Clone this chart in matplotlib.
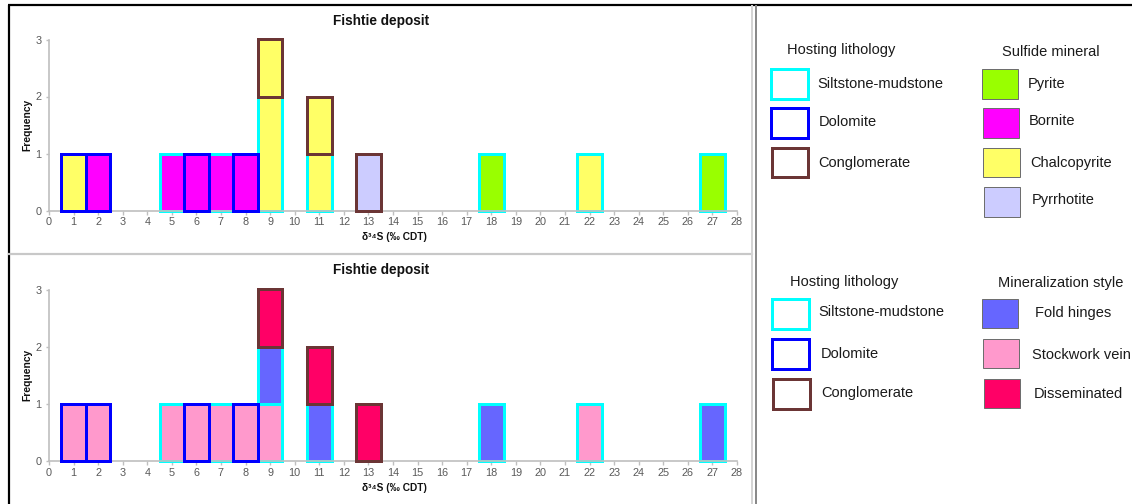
import matplotlib
matplotlib.use("Agg")
import matplotlib.pyplot as plt
from matplotlib.patches import Rectangle

plt.rcParams['font.family'] = ['Liberation Sans', 'DejaVu Sans']

# Sulfur isotope samples (one entry per analysed sample, binned to integer permil)
d34s_bin = [1, 2, 5, 6, 7, 8, 9, 9, 9, 11, 11, 13, 18, 22, 27]
lithology = ["Dolomite", "Dolomite", "Siltstone-mudstone", "Dolomite",
             "Siltstone-mudstone", "Dolomite", "Siltstone-mudstone",
             "Siltstone-mudstone", "Conglomerate", "Siltstone-mudstone",
             "Conglomerate", "Conglomerate", "Siltstone-mudstone",
             "Siltstone-mudstone", "Siltstone-mudstone"]
mineral = ["Chalcopyrite", "Bornite", "Bornite", "Bornite", "Bornite", "Bornite",
           "Chalcopyrite", "Chalcopyrite", "Chalcopyrite", "Chalcopyrite",
           "Chalcopyrite", "Pyrrhotite", "Pyrite", "Chalcopyrite", "Pyrite"]
style = ["Stockwork vein", "Stockwork vein", "Stockwork vein", "Stockwork vein",
         "Stockwork vein", "Stockwork vein", "Stockwork vein", "Fold hinges",
         "Disseminated", "Fold hinges", "Disseminated", "Disseminated",
         "Fold hinges", "Stockwork vein", "Fold hinges"]

x_ticks = list(range(0, 29))
y_ticks = [0, 1, 2, 3]

litho_names = ["Siltstone-mudstone", "Dolomite", "Conglomerate"]
litho_colors = {"Siltstone-mudstone": "#00FFFF", "Dolomite": "#0000FF",
                "Conglomerate": "#6B3535"}
litho_z = {"Siltstone-mudstone": 2, "Dolomite": 3, "Conglomerate": 4}

mineral_names = ["Pyrite", "Bornite", "Chalcopyrite", "Pyrrhotite"]
mineral_colors = {"Pyrite": "#99FF00", "Bornite": "#FF00FF",
                  "Chalcopyrite": "#FFFF66", "Pyrrhotite": "#CCCCFF"}

style_names = ["Fold hinges", "Stockwork vein", "Disseminated"]
style_colors = {"Fold hinges": "#6666FF", "Stockwork vein": "#FF99CC",
                "Disseminated": "#FF0066"}

W, H = 1132, 504
fig = plt.figure(figsize=(W / 100, H / 100), dpi=100, facecolor="white")

# Background canvas in pixel units for frame lines and legend panels
bg = fig.add_axes([0, 0, 1, 1])
bg.set_xlim(0, W)
bg.set_ylim(H, 0)
bg.axis("off")

px = 72 / 100  # points per pixel
bg.plot([8, W], [5, 5], color="black", lw=2.2 * px, solid_capstyle="butt")
bg.plot([8.5, 8.5], [5, H], color="black", lw=2.2 * px, solid_capstyle="butt")
bg.plot([9, 752], [254, 254], color="#c8c8c8", lw=2.2 * px)
bg.plot([752, 752], [6, H], color="#d4d4d4", lw=2 * px)
bg.plot([755.5, 755.5], [6, H], color="#8a8a8a", lw=2 * px)

grey_axis = "#bfbfbf"
tick_text = "#595959"


def stacked_groups(fill_of):
    """Collapse consecutive samples sharing bin, lithology and fill class into counts."""
    groups = []
    for b, lith, cat in zip(d34s_bin, lithology, fill_of):
        if groups and groups[-1][0] == b and groups[-1][1] == lith and groups[-1][2] == cat:
            groups[-1][3] += 1
        else:
            groups.append([b, lith, cat, 1])
    return groups


def make_hist(fig_rect, fill_of, fill_map, title_y, xlabel_y):
    ax = fig.add_axes(fig_rect)
    ax.set_facecolor("none")
    heights = {}
    for b, lith, cat, n in stacked_groups(fill_of):
        base = heights.get(b, 0)
        bars = ax.bar(b, n, bottom=base, width=1.0, color=fill_map[cat],
                      edgecolor=litho_colors[lith], linewidth=3 * px,
                      zorder=litho_z[lith] + base * 0.01, joinstyle="miter")
        for p in bars:
            p.set_clip_on(False)
        heights[b] = base + n
    ax.set_xlim(0, 28)
    ax.set_ylim(0, 3)
    ax.set_xticks(x_ticks)
    ax.set_yticks(y_ticks)
    for s in ("top", "right"):
        ax.spines[s].set_visible(False)
    for s in ("left", "bottom"):
        ax.spines[s].set_color(grey_axis)
        ax.spines[s].set_linewidth(1.2)
    ax.tick_params(axis="x", direction="out", length=3, width=1.0, color=grey_axis,
                   labelsize=7.8, labelcolor=tick_text, pad=2)
    ax.tick_params(axis="y", direction="out", length=2.5, width=1.0, color=grey_axis,
                   labelsize=7.8, labelcolor=tick_text, pad=3)
    fig.text(381 / W, 1 - title_y / H, "Fishtie deposit", ha="center", va="center",
             fontsize=9.8, fontweight="bold", color="#111111")
    fig.text(394 / W, 1 - xlabel_y / H, "δ³⁴S (‰ CDT)", ha="center", va="center",
             fontsize=7.3, fontweight="bold", color="#111111",
             family=["Liberation Sans", "DejaVu Sans"])
    mid = (fig_rect[1] + fig_rect[3] / 2)
    fig.text(27 / W, mid, "Frequency", ha="center", va="center", rotation=90,
             fontsize=7.4, fontweight="bold", color="#111111")
    return ax


def rect_from_px(x0, y_top_px, y_bot_px, x1):
    return [x0 / W, 1 - y_bot_px / H, (x1 - x0) / W, (y_bot_px - y_top_px) / H]


make_hist(rect_from_px(49, 39.5, 210.5, 737), mineral, mineral_colors, 20.5, 237)
make_hist(rect_from_px(49, 289.5, 461, 737), style, style_colors, 270, 488)

leg_fs = 10.5
leg_col = "#1a1a1a"


def litho_legend(title_xy, boxes, labels_xy):
    bg.text(title_xy[0], title_xy[1], "Hosting lithology", ha="left", va="center",
            fontsize=leg_fs, color=leg_col)
    for name, (x0, y0, x1, y1), (tx, ty) in zip(litho_names, boxes, labels_xy):
        bg.add_patch(Rectangle((x0, y0), x1 - x0, y1 - y0, facecolor="white",
                               edgecolor=litho_colors[name], lw=3 * px,
                               joinstyle="miter"))
        bg.text(tx, ty, name, ha="left", va="center", fontsize=leg_fs, color=leg_col)


def fill_legend(title, title_xy, names, colors, boxes, labels_xy):
    bg.text(title_xy[0], title_xy[1], title, ha="left", va="center",
            fontsize=leg_fs, color=leg_col)
    for name, (x0, y0, x1, y1), (tx, ty) in zip(names, boxes, labels_xy):
        bg.add_patch(Rectangle((x0, y0), x1 - x0, y1 - y0, facecolor=colors[name],
                               edgecolor="#6e6e6e", lw=1.0 * px))
        bg.text(tx, ty, name, ha="left", va="center", fontsize=leg_fs, color=leg_col)


# Upper panel legends
litho_legend((787, 50),
             [(771, 69, 808, 99), (771, 108, 808, 138), (772, 148, 808, 177)],
             [(817, 84), (819, 122), (818, 163)])
fill_legend("Sulfide mineral", (1002, 52), mineral_names, mineral_colors,
            [(982, 69, 1018, 99), (983, 108, 1019, 138), (983, 148, 1020, 177),
             (984, 187, 1020, 217)],
            [(1028, 84), (1029, 121), (1030, 163), (1032, 200)])

# Lower panel legends
litho_legend((790, 282),
             [(772, 299, 809, 329), (772, 339, 809, 369), (773, 379, 810, 409)],
             [(818, 312), (821, 354), (821, 393)])
fill_legend("Mineralization style", (998, 283), style_names, style_colors,
            [(982, 299, 1018, 328), (983, 339, 1019, 368), (984, 379, 1020, 408)],
            [(1035, 313), (1032, 355), (1034, 394)])

fig.savefig("out.png", dpi=100, facecolor="white")
